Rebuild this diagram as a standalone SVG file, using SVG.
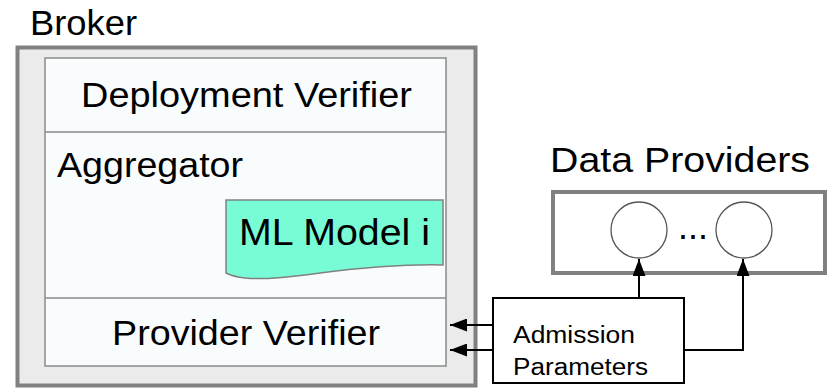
<svg xmlns="http://www.w3.org/2000/svg" width="829" height="389" viewBox="0 0 829 389">
<style>
text{font-family:"Liberation Sans",Arial,sans-serif;fill:#000}
.big{font-size:35px}
.small{font-size:23px}
.conn{stroke:#000;stroke-width:2;fill:none}
</style>
<defs>
<marker id="ah" viewBox="0 0 17 13" refX="17" refY="6.5" markerWidth="17" markerHeight="13" markerUnits="userSpaceOnUse" orient="auto">
<path d="M0,0 L17,6.5 L0,13 Z" fill="#000"/>
</marker>
</defs>
<rect width="829" height="389" fill="#fff"/>
<g id="broker">
<text class="big" x="30" y="35" textLength="107" lengthAdjust="spacingAndGlyphs">Broker</text>
<rect x="17.5" y="47.5" width="458" height="338" fill="#ebebeb" stroke="#808080" stroke-width="4"/>
<rect x="45" y="58" width="401" height="308" fill="#f8fcfd" stroke="#8a8a8a" stroke-width="1.5"/>
</g>
<g id="deployment-verifier">
<text class="big" x="81" y="107" textLength="331" lengthAdjust="spacingAndGlyphs">Deployment Verifier</text>
<line x1="45" y1="132" x2="446" y2="132" stroke="#8a8a8a" stroke-width="1.5"/>
</g>
<g id="aggregator">
<text class="big" x="57" y="177" textLength="186" lengthAdjust="spacingAndGlyphs">Aggregator</text>
</g>
<g id="ml-model">
<path d="M226,200 H443 V265 C400,264 360,268 320,273 C290,277 265,280 245,278 C236,277 230,275 226,273 Z" fill="#77fcd6" stroke="#808080" stroke-width="1.5"/>
<text x="239" y="245" font-size="37" textLength="191" lengthAdjust="spacingAndGlyphs">ML Model i</text>
</g>
<g id="provider-verifier">
<line x1="45" y1="298" x2="446" y2="298" stroke="#8a8a8a" stroke-width="1.5"/>
<text class="big" x="112" y="345" textLength="268" lengthAdjust="spacingAndGlyphs">Provider Verifier</text>
</g>
<g id="data-providers">
<text class="big" x="550" y="172" textLength="260" lengthAdjust="spacingAndGlyphs">Data Providers</text>
<rect x="553" y="192" width="272" height="81" fill="#fff" stroke="#808080" stroke-width="4"/>
<circle cx="639" cy="230" r="28" fill="#fff" stroke="#555" stroke-width="1.3"/>
<circle cx="744" cy="230" r="28" fill="#fff" stroke="#555" stroke-width="1.3"/>
<text x="678" y="239" font-size="36" textLength="30" lengthAdjust="spacingAndGlyphs">...</text>
</g>
<g id="admission-parameters">
<rect x="493" y="298" width="191" height="85" fill="#fff" stroke="#000" stroke-width="2"/>
<text class="small" x="513" y="343" textLength="122" lengthAdjust="spacingAndGlyphs">Admission</text>
<text class="small" x="513" y="375" textLength="135" lengthAdjust="spacingAndGlyphs">Parameters</text>
</g>
<g id="connectors">
<line class="conn" x1="493" y1="325" x2="450" y2="325" marker-end="url(#ah)"/>
<line class="conn" x1="493" y1="350" x2="450" y2="350" marker-end="url(#ah)"/>
<line class="conn" x1="639" y1="298" x2="639" y2="259" marker-end="url(#ah)"/>
<polyline class="conn" points="684,350 743,350 743,259" marker-end="url(#ah)"/>
</g>
</svg>
